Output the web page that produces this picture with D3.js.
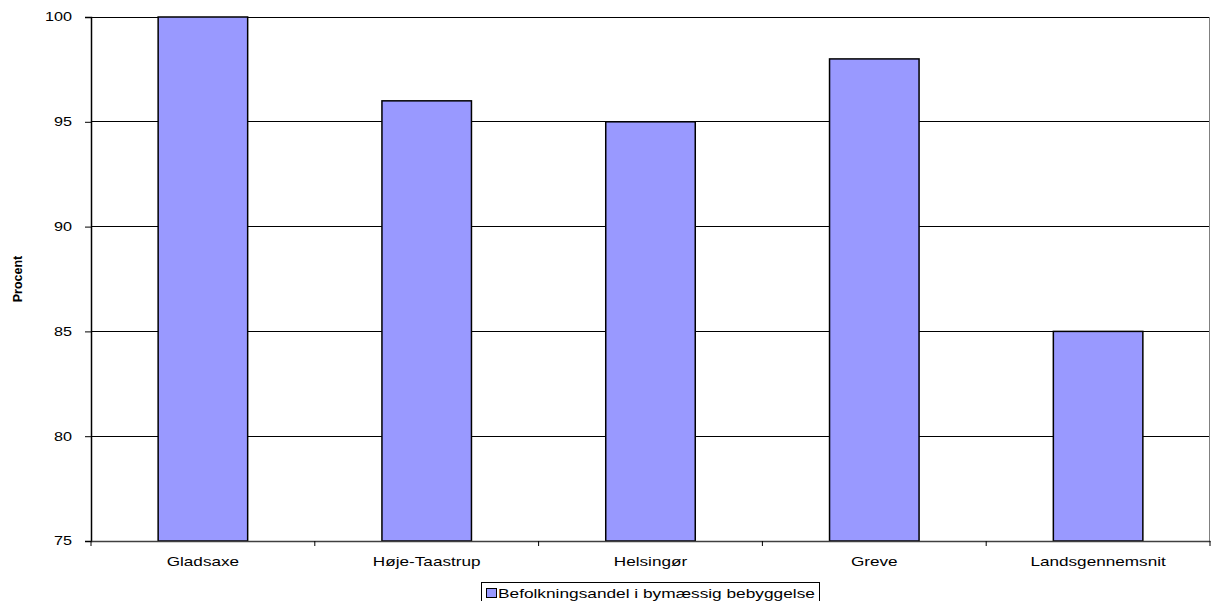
<!DOCTYPE html>
<html><head><meta charset="utf-8">
<script src="https://cdn.jsdelivr.net/npm/d3@7"></script>
<style>body{margin:0;background:#fff;}svg{display:block;font-family:"Liberation Sans",Arial,sans-serif;}</style>
</head><body>
<script>
const categories = ["Gladsaxe","Høje-Taastrup","Helsingør","Greve","Landsgennemsnit"];
const values = [100, 96, 95, 98, 85];
const yTicks = [75, 80, 85, 90, 95, 100];
const seriesName = "Befolkningsandel i bymæssig bebyggelse";
const yLabel = "Procent";

const W = 1211, H = 601;
const m = {left: 91, right: 1210, top: 17, bottom: 541};
const SX = 1.32;
const svg = d3.select("body").append("svg").attr("width", W).attr("height", H);

const x = d3.scaleBand().domain(categories).range([m.left, m.right]).paddingInner(0.6).paddingOuter(0.3);
const xb = d3.scaleBand().domain(categories).range([m.left, m.right]);
const y = d3.scaleLinear().domain([75, 100]).range([m.bottom, m.top]);

// gridlines
svg.append("g").selectAll("line").data(yTicks.filter(t => t > 75)).join("line")
  .attr("x1", m.left).attr("x2", m.right).attr("y1", d => y(d)).attr("y2", d => y(d))
  .attr("stroke", "#000").attr("stroke-width", 1).attr("shape-rendering", "crispEdges");

// right border
svg.append("line").attr("x1", m.right - 0.5).attr("x2", m.right - 0.5).attr("y1", m.top).attr("y2", m.bottom)
  .attr("stroke", "#808080").attr("stroke-width", 1);

// bars
svg.append("g").selectAll("rect").data(categories).join("rect")
  .attr("x", d => x(d)).attr("width", x.bandwidth())
  .attr("y", (d, i) => y(values[i])).attr("height", (d, i) => y(75) - y(values[i]))
  .attr("fill", "#9999FF").attr("stroke", "#000").attr("stroke-width", 1.5);

// y axis
const yAxis = svg.append("g").attr("transform", `translate(${m.left},0)`)
  .call(d3.axisLeft(y).tickValues(yTicks).tickSize(6).tickPadding(13));
yAxis.select(".domain").attr("stroke", "#000").attr("stroke-width", 1.5);
yAxis.selectAll(".tick line").attr("stroke", "#000");
yAxis.selectAll("text").attr("font-size", 12).attr("fill", "#000")
  .attr("font-family", "Liberation Sans, Arial, sans-serif")
  .attr("x", -19 / 1.35).attr("transform", "scale(1.35,1)");

// x axis
const xAxis = svg.append("g").attr("transform", `translate(0,${m.bottom})`)
  .call(d3.axisBottom(xb).tickSize(0).tickPadding(0));
xAxis.select(".domain").attr("stroke", "#404040").attr("stroke-width", 1.5);
xAxis.selectAll("text").attr("font-size", 13).attr("fill", "#000")
  .attr("font-family", "Liberation Sans, Arial, sans-serif")
  .attr("dy", null).attr("y", 25).attr("transform", `scale(${SX},1)`);
// boundary ticks
const bounds = categories.map(c => xb(c)).concat([m.right]);
svg.append("g").selectAll("line").data(bounds).join("line")
  .attr("x1", d => d).attr("x2", d => d).attr("y1", m.bottom).attr("y2", m.bottom + 5)
  .attr("stroke", "#000");

// y label
svg.append("text").attr("transform", `translate(22,${(m.top + m.bottom) / 2}) rotate(-90)`)
  .attr("text-anchor", "middle").attr("font-size", 12.5).attr("font-weight", "bold").text(yLabel);

// legend
const lg = svg.append("g").attr("transform", "translate(481,582)");
lg.append("rect").attr("x", 0.5).attr("y", 0.5).attr("width", 338).attr("height", 24)
  .attr("fill", "#fff").attr("stroke", "#000");
lg.append("rect").attr("x", 5.5).attr("y", 6.5).attr("width", 10).attr("height", 9)
  .attr("fill", "#9999FF").attr("stroke", "#000");
lg.append("text").attr("transform", `translate(17,15.7) scale(1.28,1)`)
  .attr("font-size", 13.5).text(seriesName);
</script>
</body></html>
